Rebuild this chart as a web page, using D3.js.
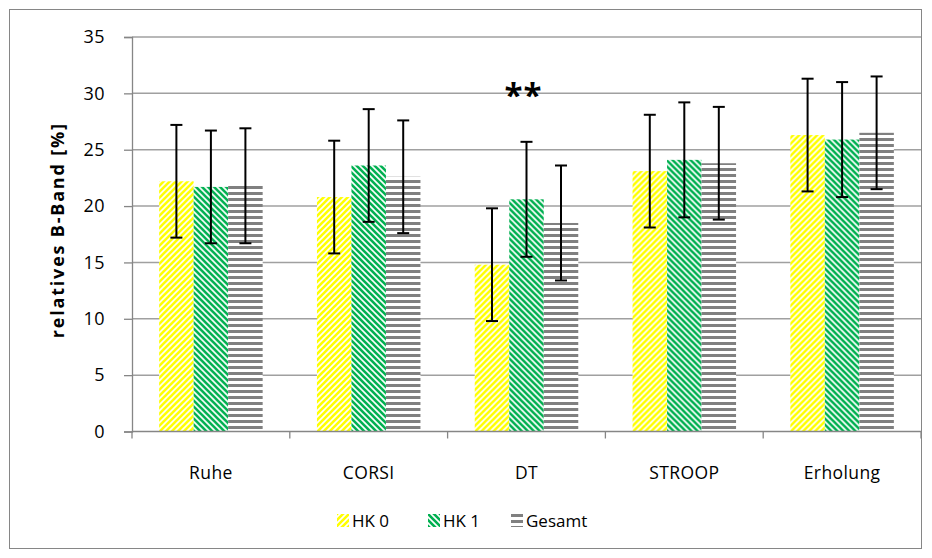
<!DOCTYPE html>
<html>
<head>
<meta charset="utf-8">
<script src="https://cdn.jsdelivr.net/npm/d3@7/dist/d3.min.js"></script>
<style>
  html, body { margin: 0; padding: 0; background: #fff; }
  svg { display: block; font-family: "Open Sans", "Noto Sans", sans-serif; }
</style>
</head>
<body>
<svg id="chart" width="932" height="558"></svg>
<script>
// Categories, series and tick labels
const categories = ["Ruhe", "CORSI", "DT", "STROOP", "Erholung"];
const seriesNames = ["HK 0", "HK 1", "Gesamt"];
const hk0 = [22.2, 20.8, 14.8, 23.1, 26.3];
const hk1 = [21.7, 23.6, 20.6, 24.1, 25.9];
const gesamt = [21.8, 22.6, 18.5, 23.8, 26.5];
const hk0Err = [5.0, 5.0, 5.0, 5.0, 5.0];
const hk1Err = [5.0, 5.0, 5.1, 5.1, 5.1];
const gesamtErr = [5.1, 5.0, 5.1, 5.0, 5.0];
const yTicks = [0, 5, 10, 15, 20, 25, 30, 35];
const significance = { category: "DT", series: "HK 1", text: "**" };

const values = [hk0, hk1, gesamt];
const errors = [hk0Err, hk1Err, gesamtErr];
const rows = [];
categories.forEach((c, i) => {
  seriesNames.forEach((s, j) => {
    rows.push({ category: c, series: s, value: values[j][i], err: errors[j][i] });
  });
});

const svg = d3.select("#chart");
const plot = { left: 132, right: 921, top: 37, bottom: 431.5 };

// Hatch patterns for the three series
const defs = svg.append("defs");
function diagPattern(id, color, up) {
  const p = defs.append("pattern")
    .attr("id", id).attr("patternUnits", "userSpaceOnUse")
    .attr("width", 6).attr("height", 6);
  p.append("rect").attr("width", 6).attr("height", 6).attr("fill", "#fff");
  const d = up
    ? "M-1.5,1.5 L1.5,-1.5 M0,6 L6,0 M4.5,7.5 L7.5,4.5"
    : "M-1.5,4.5 L1.5,7.5 M0,0 L6,6 M4.5,-1.5 L7.5,1.5";
  p.append("path").attr("d", d).attr("stroke", color).attr("stroke-width", 2.6);
}
diagPattern("patHK0", "#ffff00", true);
diagPattern("patHK1", "#00b050", false);
const hp = defs.append("pattern")
  .attr("id", "patGes").attr("patternUnits", "userSpaceOnUse")
  .attr("width", 6).attr("height", 6);
hp.append("rect").attr("width", 6).attr("height", 6).attr("fill", "#fff");
hp.append("rect").attr("y", 0).attr("width", 6).attr("height", 3).attr("fill", "#808080");
const fills = { "HK 0": "url(#patHK0)", "HK 1": "url(#patHK1)", "Gesamt": "url(#patGes)" };

// Chart border
svg.append("rect")
  .attr("x", 9.5).attr("y", 9.5).attr("width", 912).attr("height", 539)
  .attr("fill", "#fff").attr("stroke", "#868686").attr("stroke-width", 1);

// Scales
const x0 = d3.scaleBand().domain(categories)
  .range([plot.left, plot.right]).paddingInner(0.344).paddingOuter(0.172);
const x1 = d3.scaleBand().domain(seriesNames).range([0, x0.bandwidth()]);
const y = d3.scaleLinear().domain([0, 35]).range([plot.bottom, plot.top]);

// Gridlines
svg.append("g").selectAll("line")
  .data(yTicks.filter(t => t > 0))
  .join("line")
  .attr("x1", plot.left).attr("x2", plot.right)
  .attr("y1", d => y(d)).attr("y2", d => y(d))
  .attr("stroke", "#a0a0a0").attr("stroke-width", 1.5);

// Y axis
const yAxis = svg.append("g")
  .attr("transform", `translate(${plot.left},0)`)
  .call(d3.axisLeft(y).tickValues(yTicks).tickSize(8).tickPadding(19).tickFormat(d3.format("d")));
yAxis.select(".domain").attr("stroke", "#868686").attr("stroke-width", 1.3);
yAxis.selectAll(".tick line").attr("stroke", "#868686").attr("stroke-width", 1.3);
yAxis.selectAll(".tick text").attr("fill", "#000").attr("font-size", 18)
  .attr("letter-spacing", 0.5)
  .attr("font-family", "'Open Sans', sans-serif");

// Bars
const groups = svg.append("g").selectAll("g")
  .data(categories).join("g")
  .attr("transform", d => `translate(${x0(d)},0)`);
groups.selectAll("rect")
  .data(c => rows.filter(r => r.category === c))
  .join("rect")
  .attr("x", d => x1(d.series))
  .attr("width", x1.bandwidth())
  .attr("y", d => y(d.value))
  .attr("height", d => y(0) - y(d.value))
  .attr("fill", d => fills[d.series]);

// X axis (ticks between categories)
const xAxisG = svg.append("g").attr("transform", `translate(0,${plot.bottom})`);
xAxisG.append("line").attr("x1", plot.left).attr("x2", plot.right)
  .attr("stroke", "#868686").attr("stroke-width", 1.3);
const step = x0.step();
xAxisG.selectAll("line.tk").data(d3.range(categories.length + 1)).join("line")
  .attr("class", "tk")
  .attr("x1", i => plot.left + i * step).attr("x2", i => plot.left + i * step)
  .attr("y1", 0).attr("y2", 7)
  .attr("stroke", "#868686").attr("stroke-width", 1.3);
xAxisG.selectAll("text").data(categories).join("text")
  .attr("x", d => x0(d) + x0.bandwidth() / 2)
  .attr("y", 47)
  .attr("text-anchor", "middle")
  .attr("font-size", 17.5)
  .attr("letter-spacing", 0.4)
  .text(d => d);

// Error bars
const eb = groups.selectAll("g.err")
  .data(c => rows.filter(r => r.category === c))
  .join("g").attr("class", "err")
  .attr("transform", d => `translate(${x1(d.series) + x1.bandwidth() / 2},0)`);
eb.append("line").attr("y1", d => y(d.value - d.err)).attr("y2", d => y(d.value + d.err))
  .attr("stroke", "#000").attr("stroke-width", 2);
eb.append("line").attr("x1", -6).attr("x2", 6)
  .attr("y1", d => y(d.value + d.err)).attr("y2", d => y(d.value + d.err))
  .attr("stroke", "#000").attr("stroke-width", 2);
eb.append("line").attr("x1", -6).attr("x2", 6)
  .attr("y1", d => y(d.value - d.err)).attr("y2", d => y(d.value - d.err))
  .attr("stroke", "#000").attr("stroke-width", 2);

// Significance marker above the HK 1 bar in DT
svg.append("text")
  .attr("x", x0(significance.category) + x1(significance.series) + x1.bandwidth() / 2 - 3)
  .attr("y", 107)
  .attr("text-anchor", "middle")
  .attr("font-size", 33).attr("font-weight", "bold")
  .attr("letter-spacing", 1)
  .text(significance.text);

// Y axis title
svg.append("text")
  .attr("transform", `translate(64,${(plot.top + plot.bottom) / 2 - 4}) rotate(-90)`)
  .attr("text-anchor", "middle")
  .attr("font-size", 18).attr("font-weight", "bold")
  .attr("letter-spacing", 1.8)
  .text("relatives B-Band [%]");

// Legend
const legendX = [337, 428, 511];
const leg = svg.append("g").selectAll("g").data(seriesNames).join("g")
  .attr("transform", (d, i) => `translate(${legendX[i]},514)`);
leg.append("rect").attr("width", 12).attr("height", 13).attr("fill", d => fills[d]);
leg.append("text").attr("x", 15).attr("y", 13)
  .attr("font-size", 17).text(d => d);
</script>
</body>
</html>
